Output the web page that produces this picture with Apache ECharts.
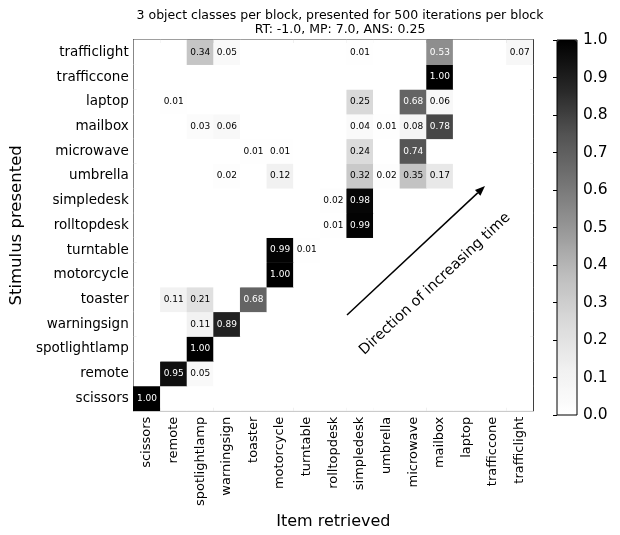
<!DOCTYPE html>
<html><head><meta charset="utf-8">
<script src="https://cdn.jsdelivr.net/npm/echarts@6/dist/echarts.min.js"></script>
<style>html,body{margin:0;padding:0;background:#fff}#c{width:620px;height:535px}</style>
</head><body><div id="c"></div>
<script>
// Categories (bottom-to-top for stimulus, left-to-right for item retrieved)
const categories = ['scissors','remote','spotlightlamp','warningsign','toaster','motorcycle','turntable','rolltopdesk','simpledesk','umbrella','microwave','mailbox','laptop','trafficcone','trafficlight'];
// Each row: stimulus presented; values over item retrieved (same order as categories)
const scissorsRow      = [1.00,0,0,0,0,0,0,0,0,0,0,0,0,0,0];
const remoteRow        = [0,0.95,0.05,0,0,0,0,0,0,0,0,0,0,0,0];
const spotlightlampRow = [0,0,1.00,0,0,0,0,0,0,0,0,0,0,0,0];
const warningsignRow   = [0,0,0.11,0.89,0,0,0,0,0,0,0,0,0,0,0];
const toasterRow       = [0,0.11,0.21,0,0.68,0,0,0,0,0,0,0,0,0,0];
const motorcycleRow    = [0,0,0,0,0,1.00,0,0,0,0,0,0,0,0,0];
const turntableRow     = [0,0,0,0,0,0.99,0.01,0,0,0,0,0,0,0,0];
const rolltopdeskRow   = [0,0,0,0,0,0,0,0.01,0.99,0,0,0,0,0,0];
const simpledeskRow    = [0,0,0,0,0,0,0,0.02,0.98,0,0,0,0,0,0];
const umbrellaRow      = [0,0,0,0.02,0,0.12,0,0,0.32,0.02,0.35,0.17,0,0,0];
const microwaveRow     = [0,0,0,0,0.01,0.01,0,0,0.24,0,0.74,0,0,0,0];
const mailboxRow       = [0,0,0.03,0.06,0,0,0,0,0.04,0.01,0.08,0.78,0,0,0];
const laptopRow        = [0,0.01,0,0,0,0,0,0,0.25,0,0.68,0.06,0,0,0];
const trafficconeRow   = [0,0,0,0,0,0,0,0,0,0,0,1.00,0,0,0];
const trafficlightRow  = [0,0,0.34,0.05,0,0,0,0,0.01,0,0,0.53,0,0,0.07];
const rows = [scissorsRow,remoteRow,spotlightlampRow,warningsignRow,toasterRow,motorcycleRow,turntableRow,rolltopdeskRow,simpledeskRow,umbrellaRow,microwaveRow,mailboxRow,laptopRow,trafficconeRow,trafficlightRow];
const colorbarTicks = [0,0.1,0.2,0.3,0.4,0.5,0.6,0.7,0.8,0.9,1.0];
const greys = ['#ffffff','#f0f0f0','#d9d9d9','#bdbdbd','#969696','#737373','#525252','#252525','#000000'];

const FONT = 'DejaVu Sans';
const data = [];
rows.forEach((r, yi) => r.forEach((v, xi) => {
  data.push({value: [xi, yi, v], label: {color: v > 0.5 ? '#ffffff' : '#000000'}});
}));

const G = {left: 133, top: 40, width: 400, height: 375};
const blk = '#000';
function catAxis(pos, align, len, showLabel, extra) {
  return Object.assign({
    type: 'category', data: categories, gridIndex: 0, position: pos,
    axisLine: {show: true, lineStyle: {color: blk, width: 1}},
    axisTick: {show: true, inside: true, alignWithLabel: align, interval: 0, length: len, lineStyle: {color: blk}},
    axisLabel: {show: showLabel},
    splitLine: {show: false}
  }, extra || {});
}
const chart = echarts.init(document.getElementById('c'), null, {renderer: 'canvas'});
const option = {
  animation: false,
  backgroundColor: '#fff',
  textStyle: {fontFamily: FONT},
  title: {
    text: '3 object classes per block, presented for 500 iterations per block\nRT: -1.0, MP: 7.0, ANS: 0.25',
    left: 335, top: 4, textAlign: 'center',
    textStyle: {fontFamily: FONT, fontSize: 12.5, fontWeight: 'normal', color: '#000', lineHeight: 14}
  },
  grid: [
    Object.assign({show: true, borderColor: blk, borderWidth: 1, backgroundColor: '#fff'}, G),
    {left: 557, top: 40, width: 20, height: 375, show: true, borderColor: blk, borderWidth: 1, backgroundColor: 'transparent', z: 10}
  ],
  xAxis: [
    catAxis('bottom', true, 4, true, {
      axisLabel: {show: true, rotate: 90, interval: 0, fontSize: 13, color: blk, fontFamily: FONT, margin: 6},
      name: 'Item retrieved', nameLocation: 'middle', nameGap: 100,
      nameTextStyle: {fontSize: 16, color: blk, fontFamily: FONT}
    }),
    catAxis('top', true, 4, false),
    catAxis('bottom', false, 3, false),
    catAxis('top', false, 3, false),
    {type: 'value', gridIndex: 1, show: false, min: 0, max: 1}
  ],
  yAxis: [
    catAxis('left', true, 4, true, {
      axisLabel: {show: true, interval: 0, fontSize: 13.5, color: blk, fontFamily: FONT, margin: 5},
      name: 'Stimulus presented', nameLocation: 'middle', nameGap: 104, nameRotate: 90,
      nameTextStyle: {fontSize: 16.5, color: blk, fontFamily: FONT}
    }),
    catAxis('right', true, 4, false),
    catAxis('left', false, 3, false),
    catAxis('right', false, 3, false),
    {type: 'value', gridIndex: 1, position: 'right', min: 0, max: 1, interval: 0.1, z: 10,
     axisLine: {show: false},
     axisTick: {show: true, inside: true, length: 4, lineStyle: {color: blk}},
     axisLabel: {fontSize: 15.5, color: blk, fontFamily: FONT, margin: 6, formatter: v => v.toFixed(1)},
     splitLine: {show: false}}
  ],
  visualMap: {
    type: 'continuous', min: 0, max: 1, calculable: false, show: true,
    left: 557, top: 40, itemWidth: 20, itemHeight: 375, padding: 0,
    inRange: {color: greys}, seriesIndex: 0, text: null, hoverLink: false
  },
  series: [{
    type: 'heatmap', xAxisIndex: 0, yAxisIndex: 0, data: data,
    label: {show: true, fontSize: 9, fontFamily: FONT,
      formatter: p => p.value[2] > 0 ? p.value[2].toFixed(2) : ''},
    itemStyle: {borderWidth: 0},
    emphasis: {disabled: true}
  }],
  graphic: []
};
chart.setOption(option);

// Annotation: arrow and text
const x0 = 347, y0 = 315, x1 = 485, y1 = 186;
const ang = Math.atan2(y0 - y1, x1 - x0);
const hl = 10, hw = 4;
const ux = Math.cos(ang), uy = -Math.sin(ang);
const bx = x1 - ux * hl, by = y1 - uy * hl;
chart.setOption({graphic: [
  {type: 'line', z: 20, shape: {x1: x0, y1: y0, x2: bx, y2: by}, style: {stroke: '#000', lineWidth: 1.5}},
  {type: 'polygon', z: 20, shape: {points: [[x1, y1], [bx - uy * hw, by + ux * hw], [bx + uy * hw, by - ux * hw]]}, style: {fill: '#000'}},
  {type: 'text', z: 20, x: 435, y: 284, rotation: ang,
   style: {text: 'Direction of increasing time', fontSize: 14.5, fontFamily: FONT, fill: '#000', align: 'center', verticalAlign: 'middle'}}
]});
</script>
</body></html>
